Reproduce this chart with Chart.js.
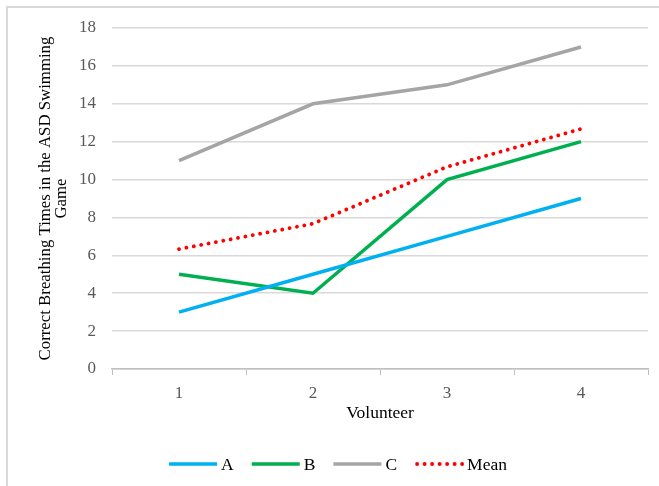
<!DOCTYPE html>
<html>
<head>
<meta charset="utf-8">
<script src="https://cdn.jsdelivr.net/npm/chart.js@4/dist/chart.umd.min.js"></script>
<style>
  html, body { margin: 0; padding: 0; background: #ffffff; }
  #wrap { position: relative; width: 659px; height: 486px; }
</style>
</head>
<body>
<div id="wrap"><canvas id="c" width="659" height="486"></canvas></div>
<script>
// Volunteers on the x axis
const volunteers = ['1', '2', '3', '4'];

// Correct breathing counts per participant
const seriesA = [3, 5, 7, 9];
const seriesB = [5, 4, 10, 12];
const seriesC = [11, 14, 15, 17];
// Average of A, B and C
const seriesMean = [6.33, 7.67, 10.67, 12.67];

const yTitleLines = ['Correct Breathing Times in the ASD Swimming', 'Game'];
const xTitle = 'Volunteer';

const serif = "'Liberation Serif', 'Times New Roman', serif";

// Light frame along the top and left edges of the figure
const framePlugin = {
  id: 'frame',
  beforeDraw(chart) {
    const ctx = chart.ctx;
    ctx.save();
    ctx.strokeStyle = '#d9d9d9';
    ctx.lineWidth = 2;
    ctx.beginPath();
    ctx.moveTo(7, chart.height);
    ctx.lineTo(7, 7);
    ctx.lineTo(chart.width, 7);
    ctx.stroke();
    ctx.restore();
  }
};

// Legend row under the axis: line sample followed by the series name
const lineLegendPlugin = {
  id: 'lineLegend',
  afterDraw(chart) {
    const ctx = chart.ctx;
    const sampleW = 48, textGap = 4, itemGap = 18;
    const centerX = 338, centerY = 464;
    ctx.save();
    ctx.font = '17.5px ' + serif;
    ctx.textBaseline = 'middle';
    const items = chart.data.datasets.map(ds => ({ ds, tw: ctx.measureText(ds.label).width }));
    const total = items.reduce((s, it) => s + sampleW + textGap + it.tw, 0) + itemGap * (items.length - 1);
    let x = centerX - total / 2;
    items.forEach(({ ds, tw }) => {
      ctx.strokeStyle = ds.borderColor;
      ctx.lineWidth = ds.borderWidth;
      ctx.lineCap = ds.borderCapStyle || 'butt';
      ctx.setLineDash(ds.borderDash || []);
      ctx.beginPath();
      ctx.moveTo(x + (ds.borderDash ? 2 : 0), centerY);
      ctx.lineTo(x + sampleW, centerY);
      ctx.stroke();
      ctx.setLineDash([]);
      x += sampleW + textGap;
      ctx.fillStyle = '#000000';
      ctx.fillText(ds.label, x, centerY + 1);
      x += tw + itemGap;
    });
    ctx.restore();
  }
};

const lineDs = (label, data, color, extra) => Object.assign({
  label, data,
  borderColor: color,
  backgroundColor: color,
  borderWidth: 3.5,
  pointRadius: 0,
  pointHoverRadius: 0,
  tension: 0,
  fill: false
}, extra || {});

new Chart(document.getElementById('c'), {
  type: 'line',
  data: {
    labels: volunteers,
    datasets: [
      lineDs('A', seriesA, '#00b0f0'),
      lineDs('B', seriesB, '#00b050'),
      lineDs('C', seriesC, '#a5a5a5'),
      lineDs('Mean', seriesMean, '#ff0000', { borderDash: [0.1, 7.4], borderCapStyle: 'round', borderWidth: 3.8 })
    ]
  },
  options: {
    responsive: false,
    animation: false,
    layout: { padding: { left: 37, right: 11, top: 28, bottom: 62 } },
    plugins: {
      legend: { display: false },
      tooltip: { enabled: false }
    },
    scales: {
      x: {
        offset: true,
        afterFit(scale) { scale.height = 55; },
        border: { display: true, color: '#bfbfbf', width: 1.5 },
        grid: { drawOnChartArea: false, drawTicks: true, tickLength: 6, color: '#bfbfbf', offset: true },
        ticks: { color: '#595959', font: { family: serif, size: 17 }, padding: 8 },
        title: { display: true, text: xTitle, color: '#000000', font: { family: serif, size: 17.5 }, padding: { top: 0, bottom: 0 } }
      },
      y: {
        min: 0, max: 18,
        afterFit(scale) { scale.width = 75; },
        border: { display: false },
        grid: { color: '#d9d9d9', lineWidth: 1.5, drawTicks: false },
        ticks: { stepSize: 2, color: '#595959', font: { family: serif, size: 17 }, padding: 16 },
        title: { display: true, text: yTitleLines, color: '#000000', font: { family: serif, size: 16.8, lineHeight: 0.97 }, padding: { top: 0, bottom: 0 } }
      }
    }
  },
  plugins: [framePlugin, lineLegendPlugin]
});
</script>
</body>
</html>
